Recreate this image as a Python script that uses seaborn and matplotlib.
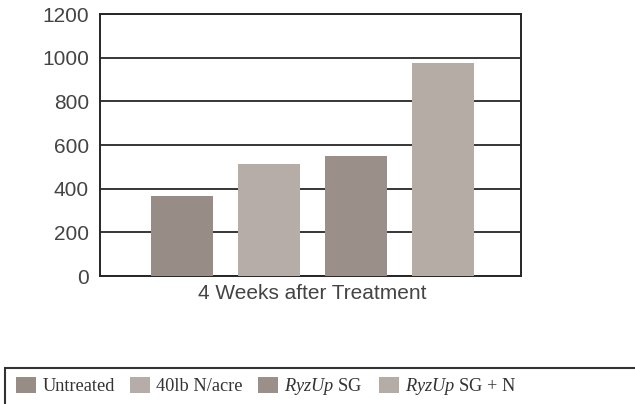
import matplotlib
matplotlib.use("Agg")
import matplotlib.pyplot as plt
from matplotlib.patches import Rectangle
import pandas as pd
import seaborn as sns

# valors llegits del gràfic
periode = ["4 Weeks after Treatment"] * 4
tractaments = ["Untreated", "40lb N/acre", r"$\it{RyzUp}$ SG", r"$\it{RyzUp}$ SG + N"]
valors = [368, 515, 550, 975]
colors = ["#978c86", "#b7ada8", "#9a8f89", "#b5aca6"]

df = pd.DataFrame({"periode": periode, "tractament": tractaments, "valor": valors})

sns.set_style("white")
plt.rcParams["font.family"] = ["Liberation Sans", "DejaVu Sans"]
plt.rcParams["mathtext.fontset"] = "custom"
plt.rcParams["mathtext.rm"] = "Liberation Serif"
plt.rcParams["mathtext.it"] = "Liberation Serif:italic"

fig = plt.figure(figsize=(6.35, 4.04), dpi=100)
ax = fig.add_axes([0.1575, 0.3168, 0.663, 0.6485])

sns.barplot(data=df, x="periode", y="valor", hue="tractament", palette=colors,
            width=0.8, gap=0.29, saturation=1, linewidth=0, ax=ax, zorder=3)

ax.set_ylim(0, 1200)
ax.set_xlim(-0.4885, 0.479)
ax.set_yticks(range(0, 1201, 200))
ax.yaxis.grid(True, color="#262626", linewidth=1.3, zorder=0)
ax.set_axisbelow(True)
for s in ax.spines.values():
    s.set_color("#262626")
    s.set_linewidth(1.4)
ax.tick_params(axis="both", length=0, labelsize=15, labelcolor="#444444")
ax.tick_params(axis="y", pad=8)
ax.tick_params(axis="x", pad=6)
ax.set_xlabel("")
ax.set_ylabel("")

# llegenda a la part inferior, amb caixa
ax.get_legend().remove()
handles, labels = ax.get_legend_handles_labels()
fig.legend(handles, labels, loc="center left", bbox_to_anchor=(0.014, 0.043),
           ncol=4, frameon=False, handlelength=1.1, handleheight=1.0,
           handletextpad=0.32, columnspacing=0.85, borderaxespad=0,
           prop={"family": "Liberation Serif", "size": 13.2}, labelcolor="#333333")
fig.patches.append(Rectangle((0.008, -0.05), 1.1, 0.139, transform=fig.transFigure,
                             fill=False, edgecolor="#333333", linewidth=1.5))

fig.savefig("out.png", dpi=100)
